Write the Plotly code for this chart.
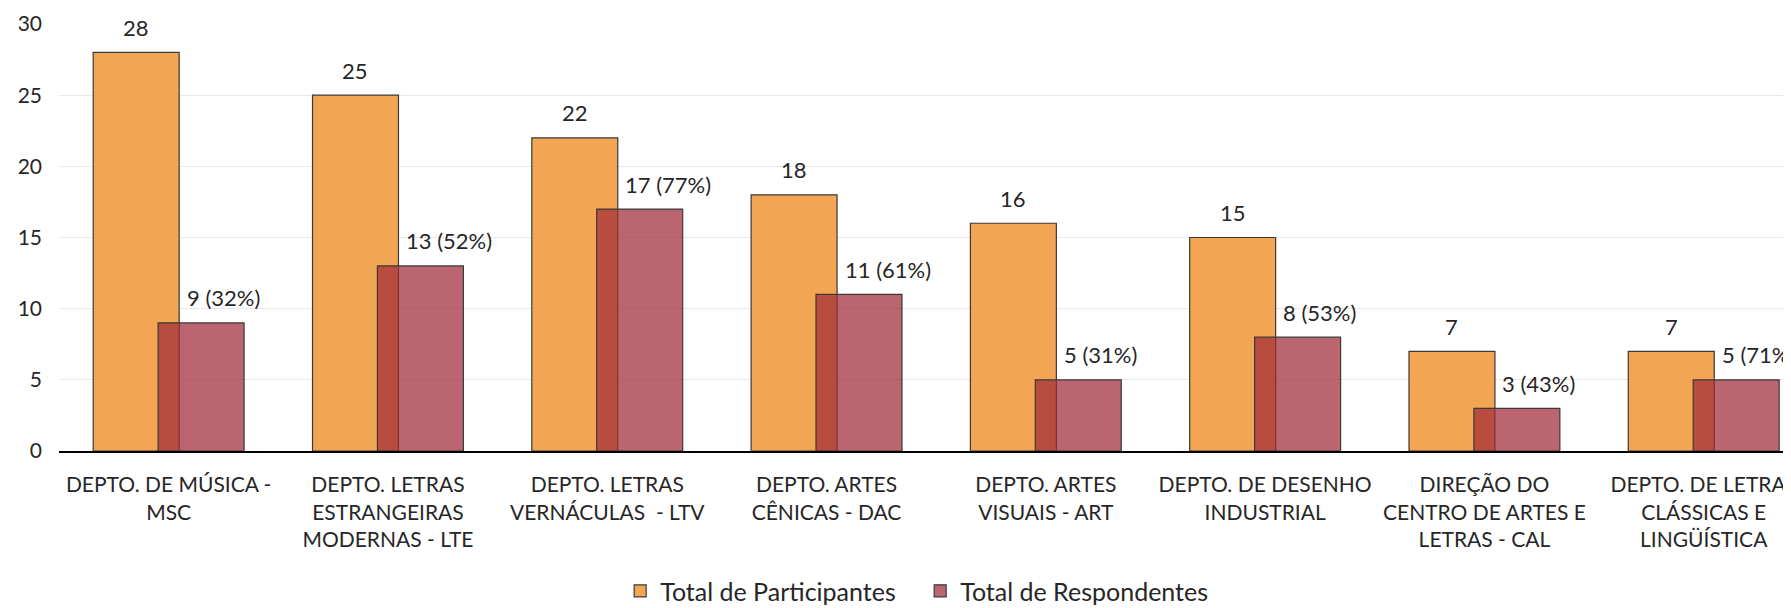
import plotly.graph_objects as go

categories = [
    "DEPTO. DE MÚSICA -<br>MSC",
    "DEPTO. LETRAS<br>ESTRANGEIRAS<br>MODERNAS - LTE",
    "DEPTO. LETRAS<br>VERNÁCULAS  - LTV",
    "DEPTO. ARTES<br>CÊNICAS - DAC",
    "DEPTO. ARTES<br>VISUAIS - ART",
    "DEPTO. DE DESENHO<br>INDUSTRIAL",
    "DIREÇÃO DO<br>CENTRO DE ARTES E<br>LETRAS - CAL",
    "DEPTO. DE LETRAS<br>CLÁSSICAS E<br>LINGÜÍSTICA",
]
participantes = [28, 25, 22, 18, 16, 15, 7, 7]
respondentes = [9, 13, 17, 11, 5, 8, 3, 5]
resp_labels = ["9 (32%)", "13 (52%)", "17 (77%)", "11 (61%)", "5 (31%)", "8 (53%)", "3 (43%)", "5 (71%)"]

FONT = "Lato"
TXT = "#262626"

fig = go.Figure()
fig.add_trace(go.Bar(
    x=categories, y=participantes, name="Total de Participantes",
    width=0.392, offset=-0.344,
    marker=dict(color="rgb(242,165,82)", line=dict(color="#3a3a3a", width=1.2)),
))
fig.add_trace(go.Bar(
    x=categories, y=respondentes, name="Total de Respondentes",
    width=0.392, offset=-0.048,
    marker=dict(color="rgba(159,42,56,0.72)", line=dict(color="#3a3a3a", width=1.2)),
))

annotations = []
for c, v in zip(categories, participantes):
    annotations.append(dict(x=c, y=v, text=str(v), showarrow=False, xref="x", yref="y",
                            xshift=-32.5, yshift=25, yanchor="middle", xanchor="center",
                            font=dict(family=FONT, size=22, color=TXT)))
for c, v, t in zip(categories, respondentes, resp_labels):
    annotations.append(dict(x=c, y=v, text=t, showarrow=False, xref="x", yref="y",
                            xshift=16, yshift=25, yanchor="middle", xanchor="left",
                            font=dict(family=FONT, size=22, color=TXT)))

fig.update_layout(
    width=1783, height=600,
    barmode="overlay",
    plot_bgcolor="white", paper_bgcolor="white",
    margin=dict(l=51, r=0, t=16, b=157, autoexpand=False),
    font=dict(family=FONT, size=21, color=TXT),
    annotations=annotations,
    legend=dict(orientation="h", x=0.324, xanchor="left", y=-0.328, yanchor="middle",
                font=dict(family=FONT, size=25, color=TXT), traceorder="normal",
                itemwidth=30, tracegroupgap=0, entrywidth=255, entrywidthmode="pixels"),
    showlegend=True,
)
fig.update_xaxes(
    type="category", range=[-0.5, 7.398], showline=True, linecolor="black", linewidth=2,
    showgrid=False, ticks="", tickfont=dict(family=FONT, size=21, color=TXT),
    ticklabelstandoff=14, automargin=False, tickangle=0,
)
fig.update_yaxes(
    range=[0, 30], dtick=5, showgrid=True, gridcolor="#E8E8E8", gridwidth=1,
    zeroline=False, showline=False, ticks="", tickfont=dict(family=FONT, size=21, color=TXT),
    ticklabelstandoff=16, automargin=False,
)
fig.write_html("out.html")
